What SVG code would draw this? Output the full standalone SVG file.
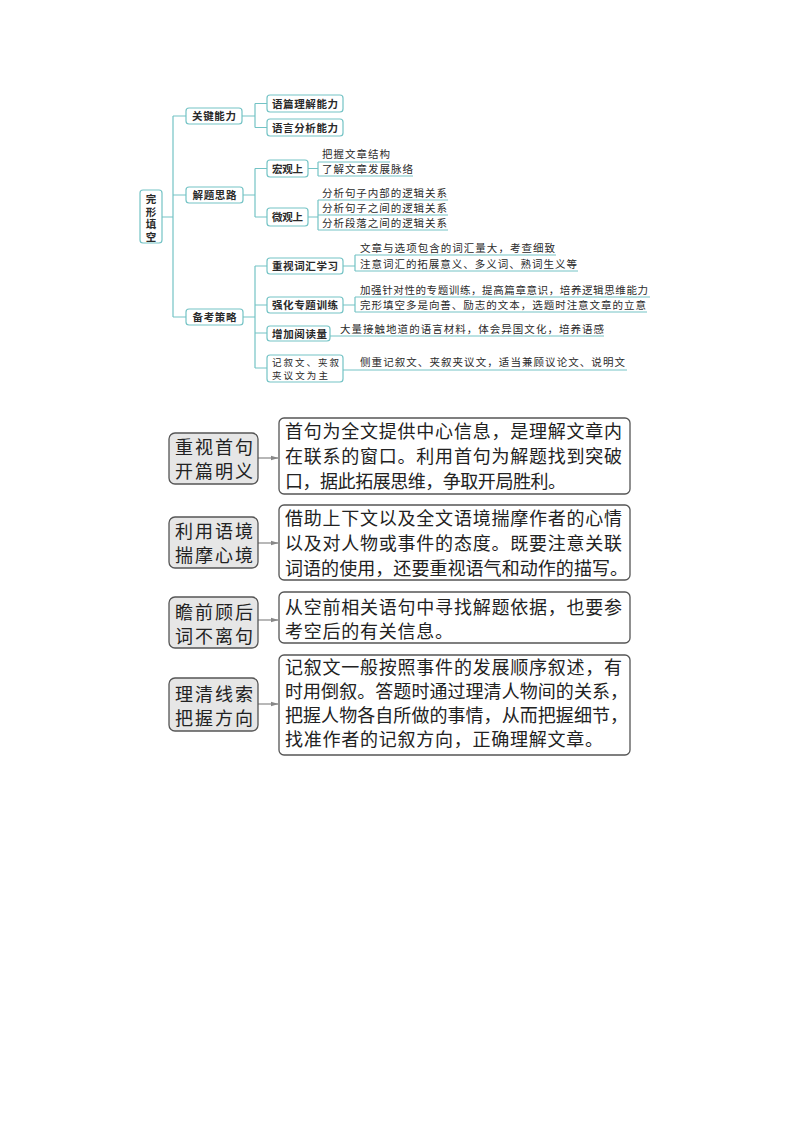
<svg xmlns="http://www.w3.org/2000/svg" width="800" height="1132" viewBox="0 0 800 1132">
<defs>
<style>
.mm{fill:#fff;stroke:#74c3c5;stroke-width:1.2}
.ln{fill:none;stroke:#74c3c5;stroke-width:1.2}
.ul{fill:none;stroke:#74c3c5;stroke-width:1}
.bt{font-family:"Noto Sans CJK SC",sans-serif;font-size:10.5px;font-weight:700;fill:#2a2a2a}
.lt{font-family:"Noto Sans CJK SC",sans-serif;font-size:10.5px;fill:#2a2a2a}
.st{font-family:"Noto Sans CJK SC",sans-serif;font-size:9.5px;fill:#2a2a2a}
.lb{fill:#e6e6e6;stroke:#555;stroke-width:1.3}
.rb{fill:#fff;stroke:#555;stroke-width:1.3}
.big{font-family:"Noto Sans CJK SC",sans-serif;font-size:18px;fill:#222}
.ar{fill:none;stroke:#888;stroke-width:1.2}
</style>
<marker id="ah" markerWidth="8" markerHeight="6" refX="7.5" refY="3" orient="auto" markerUnits="userSpaceOnUse">
<path d="M0,0.5 L8,3 L0,5.5 Z" fill="#888"/>
</marker>
</defs>
<rect width="800" height="1132" fill="#fff"/>

<g id="connectors">
<path class="ln" d="M162,217 H173 M173,116 V317 M173,116 H186 M173,195 H186 M173,317 H186"/>
<path class="ln" d="M242,116 H255 M255,103.5 V127.5 M255,103.5 H267 M255,127.5 H267"/>
<path class="ln" d="M243,195 H255 M255,168.5 V217 M255,168.5 H267 M255,217 H267"/>
<path class="ln" d="M243,317 H255 M255,266 V368 M255,266 H267 M255,305 H267 M255,333 H267 M255,368 H267"/>
<path class="ln" d="M308,168.5 H318 M318,162 V176"/>
<path class="ul" d="M318,162 H390 M318,176 H413"/>
<path class="ln" d="M308,217 H318 M318,200 V230"/>
<path class="ul" d="M318,200 H448 M318,215 H448 M318,230 H448"/>
<path class="ln" d="M343,266 H355 M355,255 V271"/>
<path class="ul" d="M355,255 H556 M355,271 H578"/>
<path class="ln" d="M343,305 H355 M355,297 V312"/>
<path class="ul" d="M355,297 H650 M355,312 H647"/>
<path class="ul" d="M330,336 H604"/>
<path class="ul" d="M343,370 H627"/>
<path class="ar" d="M258,458 H278" marker-end="url(#ah)"/>
<path class="ar" d="M258,543 H278" marker-end="url(#ah)"/>
<path class="ar" d="M258,620 H278" marker-end="url(#ah)"/>
<path class="ar" d="M258,704 H278" marker-end="url(#ah)"/>
</g>

<g id="root">
<rect class="mm" x="140" y="190" width="22" height="53" rx="3"/>
<text class="bt" x="151" y="194" writing-mode="vertical-rl" letter-spacing="2">完形填空</text>
</g>

<g id="n-gjnl">
<rect class="mm" x="186" y="108" width="56" height="16" rx="3"/>
<text class="bt" x="192" y="120" textLength="44" lengthAdjust="spacing">关键能力</text>
</g>
<g id="n-jtsl">
<rect class="mm" x="186" y="187" width="57" height="16" rx="3"/>
<text class="bt" x="192.5" y="199" textLength="44" lengthAdjust="spacing">解题思路</text>
</g>
<g id="n-bkcl">
<rect class="mm" x="186" y="309" width="57" height="16" rx="3"/>
<text class="bt" x="192.5" y="321" textLength="44" lengthAdjust="spacing">备考策略</text>
</g>

<g id="n-ypljnl">
<rect class="mm" x="267" y="95" width="76" height="17" rx="3"/>
<text class="bt" x="272" y="107.5" textLength="66" lengthAdjust="spacing">语篇理解能力</text>
</g>
<g id="n-yyfxnl">
<rect class="mm" x="267" y="119" width="76" height="17" rx="3"/>
<text class="bt" x="272" y="131.5" textLength="66" lengthAdjust="spacing">语言分析能力</text>
</g>
<g id="n-hgs">
<rect class="mm" x="267" y="160" width="41" height="17" rx="3"/>
<text class="bt" x="272" y="172.5" textLength="31" lengthAdjust="spacing">宏观上</text>
</g>
<g id="n-wgs">
<rect class="mm" x="267" y="208" width="41" height="18" rx="3"/>
<text class="bt" x="272" y="221" textLength="31" lengthAdjust="spacing">微观上</text>
</g>
<g id="n-zscx">
<rect class="mm" x="267" y="258" width="76" height="16" rx="3"/>
<text class="bt" x="272" y="270" textLength="66" lengthAdjust="spacing">重视词汇学习</text>
</g>
<g id="n-qhzt">
<rect class="mm" x="267" y="297" width="76" height="16" rx="3"/>
<text class="bt" x="272" y="309" textLength="66" lengthAdjust="spacing">强化专题训练</text>
</g>
<g id="n-zjydl">
<rect class="mm" x="267" y="326" width="63" height="15" rx="3"/>
<text class="bt" x="272" y="337.5" textLength="55" lengthAdjust="spacing">增加阅读量</text>
</g>
<g id="n-jxw">
<rect class="mm" x="267" y="355" width="76" height="27" rx="3"/>
<text class="st"><tspan x="272" y="366" textLength="67" lengthAdjust="spacing">记叙文、夹叙</tspan><tspan x="272" y="379" textLength="56" lengthAdjust="spacing">夹议文为主</tspan></text>
</g>

<g id="leaves-hg">
<text class="lt" x="322" y="158" textLength="68" lengthAdjust="spacing">把握文章结构</text>
<text class="lt" x="322" y="173" textLength="91" lengthAdjust="spacing">了解文章发展脉络</text>
</g>
<g id="leaves-wg">
<text class="lt" x="322" y="197" textLength="125" lengthAdjust="spacing">分析句子内部的逻辑关系</text>
<text class="lt" x="322" y="212" textLength="125" lengthAdjust="spacing">分析句子之间的逻辑关系</text>
<text class="lt" x="322" y="227" textLength="125" lengthAdjust="spacing">分析段落之间的逻辑关系</text>
</g>
<g id="leaves-zscx">
<text class="lt" x="360" y="252" textLength="195" lengthAdjust="spacing">文章与选项包含的词汇量大，考查细致</text>
<text class="lt" x="360" y="268" textLength="217" lengthAdjust="spacing">注意词汇的拓展意义、多义词、熟词生义等</text>
</g>
<g id="leaves-qhzt">
<text class="lt" x="360" y="294" textLength="288" lengthAdjust="spacing">加强针对性的专题训练，提高篇章意识，培养逻辑思维能力</text>
<text class="lt" x="360" y="309" textLength="286" lengthAdjust="spacing">完形填空多是向善、励志的文本，选题时注意文章的立意</text>
</g>
<g id="leaves-zjydl">
<text class="lt" x="340" y="333" textLength="264" lengthAdjust="spacing">大量接触地道的语言材料，体会异国文化，培养语感</text>
</g>
<g id="leaves-jxw">
<text class="lt" x="360" y="366" textLength="265" lengthAdjust="spacing">侧重记叙文、夹叙夹议文，适当兼顾议论文、说明文</text>
</g>

<g id="b1-left">
<rect class="lb" x="169" y="433" width="89" height="51" rx="6"/>
<text class="big" x="175" y="454" textLength="78" lengthAdjust="spacing">重视首句</text>
<text class="big" x="175" y="478" textLength="78" lengthAdjust="spacing">开篇明义</text>
</g>
<g id="b1-right">
<rect class="rb" x="279" y="418" width="351" height="76" rx="5"/>
<text class="big" x="285" y="438" textLength="337" lengthAdjust="spacing">首句为全文提供中心信息，是理解文章内</text>
<text class="big" x="285" y="463" textLength="337" lengthAdjust="spacing">在联系的窗口。利用首句为解题找到突破</text>
<text class="big" x="285" y="488" textLength="281" lengthAdjust="spacing">口，据此拓展思维，争取开局胜利。</text>
</g>

<g id="b2-left">
<rect class="lb" x="169" y="517" width="89" height="51" rx="6"/>
<text class="big" x="175" y="538" textLength="78" lengthAdjust="spacing">利用语境</text>
<text class="big" x="175" y="562" textLength="78" lengthAdjust="spacing">揣摩心境</text>
</g>
<g id="b2-right">
<rect class="rb" x="279" y="505" width="351" height="75" rx="5"/>
<text class="big" x="285" y="525" textLength="337" lengthAdjust="spacing">借助上下文以及全文语境揣摩作者的心情</text>
<text class="big" x="285" y="550" textLength="337" lengthAdjust="spacing">以及对人物或事件的态度。既要注意关联</text>
<text class="big" x="285" y="575" textLength="343" lengthAdjust="spacing">词语的使用，还要重视语气和动作的描写。</text>
</g>

<g id="b3-left">
<rect class="lb" x="169" y="597" width="89" height="51" rx="6"/>
<text class="big" x="175" y="619" textLength="78" lengthAdjust="spacing">瞻前顾后</text>
<text class="big" x="175" y="643" textLength="78" lengthAdjust="spacing">词不离句</text>
</g>
<g id="b3-right">
<rect class="rb" x="279" y="592" width="351" height="51" rx="5"/>
<text class="big" x="285" y="614" textLength="337" lengthAdjust="spacing">从空前相关语句中寻找解题依据，也要参</text>
<text class="big" x="285" y="638" textLength="168" lengthAdjust="spacing">考空后的有关信息。</text>
</g>

<g id="b4-left">
<rect class="lb" x="169" y="678" width="89" height="53" rx="6"/>
<text class="big" x="175" y="701" textLength="78" lengthAdjust="spacing">理清线索</text>
<text class="big" x="175" y="725" textLength="78" lengthAdjust="spacing">把握方向</text>
</g>
<g id="b4-right">
<rect class="rb" x="279" y="655" width="351" height="100" rx="5"/>
<text class="big" x="285" y="674" textLength="337" lengthAdjust="spacing">记叙文一般按照事件的发展顺序叙述，有</text>
<text class="big" x="285" y="698" textLength="343" lengthAdjust="spacing">时用倒叙。答题时通过理清人物间的关系，</text>
<text class="big" x="285" y="722" textLength="343" lengthAdjust="spacing">把握人物各自所做的事情，从而把握细节，</text>
<text class="big" x="285" y="746" textLength="318" lengthAdjust="spacing">找准作者的记叙方向，正确理解文章。</text>
</g>
</svg>
